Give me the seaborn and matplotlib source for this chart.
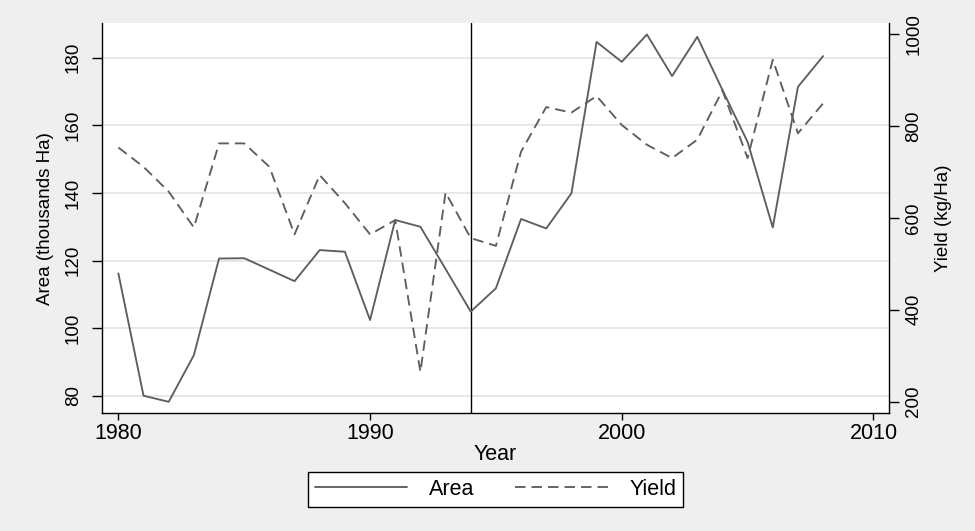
import matplotlib
matplotlib.use("Agg")
import matplotlib.pyplot as plt
import numpy as np
import pandas as pd
import seaborn as sns

# Harvested area and yield, 1980-2008
years = list(range(1980, 2009))
area = [116.2, 80.0, 78.2, 92.0, 120.6, 120.7, 117.3, 113.9, 123.1, 122.6,
        102.4, 132.0, 130.0, 117.5, 104.9, 111.8, 132.3, 129.5, 139.9, 184.7,
        178.8, 186.9, 174.6, 186.2, 170.5, 155.1, 129.8, 171.4, 180.5]
yield_kg = [753, 711, 657, 579, 762, 762, 711, 564, 693, 632,
            564, 595, 265, 655, 556, 539, 744, 841, 829, 865,
            802, 759, 730, 770, 877, 730, 944, 784, 849]
break_year = 1994

x_ticks = [1980, 1990, 2000, 2010]
area_ticks = [80, 100, 120, 140, 160, 180]
yield_ticks = [200, 400, 600, 800, 1000]

df = pd.DataFrame({"Year": years, "Area": area, "Yield": yield_kg})

sns.set_theme(style="white")
plt.rcParams["font.family"] = ["Liberation Sans", "DejaVu Sans"]

W, H = 975, 531
fig = plt.figure(figsize=(W / 100, H / 100), dpi=100, facecolor="#EFEFEF")
left, right, top, bottom = 102, 889.3, 23, 413.3
ax = fig.add_axes([left / W, 1 - bottom / H, (right - left) / W, (bottom - top) / H])
ax.set_facecolor("white")
ax2 = ax.twinx()

line_col = "#5E5E5E"
ax.axvline(break_year, color="black", lw=1.0, zorder=1.5)
sns.lineplot(data=df, x="Year", y="Area", ax=ax, color=line_col, lw=1.35, zorder=3)
sns.lineplot(data=df, x="Year", y="Yield", ax=ax2, color=line_col, lw=1.35, zorder=3)
area_line = ax.lines[-1]
yield_line = ax2.lines[-1]
yield_line.set_linestyle((0, (5.6, 3.2)))

ax.set_xlim(1979.35, 2010.63)
ax.set_ylim(74.8, 190.3)
ax2.set_ylim(174.8, 1023.9)
ax.set_xticks(x_ticks)
ax.set_yticks(area_ticks)
ax2.set_yticks(yield_ticks)

ax.yaxis.grid(True, color="#E3E3E3", lw=1.2)
ax.xaxis.grid(False)
ax.set_axisbelow(True)

for sp in ["top", "right"]:
    ax.spines[sp].set_visible(False)
for sp in ["top", "left", "bottom"]:
    ax2.spines[sp].set_visible(False)
for sp in [ax.spines["left"], ax.spines["bottom"], ax2.spines["right"]]:
    sp.set_color("black")
    sp.set_linewidth(1.0)

ax.tick_params(axis="x", direction="out", length=4.8, width=1.0, color="black",
               bottom=True, labelsize=15.5, pad=2.5, labelcolor="black")
ax.tick_params(axis="y", direction="out", length=7, width=1.0, color="black",
               left=True, labelsize=13.5, pad=7.5, labelcolor="black", labelrotation=90)
ax2.tick_params(axis="y", direction="out", length=7, width=1.0, color="black",
                right=True, labelsize=13.5, pad=4.5, labelcolor="black", labelrotation=90)
for lbl in ax.get_yticklabels() + ax2.get_yticklabels():
    lbl.set_va("center")

ax.set_xlabel("Year", fontsize=15.5, color="black", labelpad=-0.5)
ax.set_ylabel("Area (thousands Ha)", fontsize=13.5, color="black", labelpad=7.5)
ax2.set_ylabel("Yield (kg/Ha)", fontsize=13.5, color="black", labelpad=9.5)

leg = fig.legend([area_line, yield_line], ["Area", "Yield"], ncol=2,
                 loc="center", bbox_to_anchor=((left + right) / 2 / W, 1 - 489.5 / H),
                 frameon=True, fancybox=False, framealpha=1, edgecolor="black",
                 fontsize=15.5, handlelength=4.3, handletextpad=1.0,
                 columnspacing=1.9, borderpad=0.32, borderaxespad=0)
leg.get_frame().set_linewidth(1.0)
for t in leg.get_texts():
    t.set_color("black")

fig.savefig("out.png", dpi=100, facecolor=fig.get_facecolor())
